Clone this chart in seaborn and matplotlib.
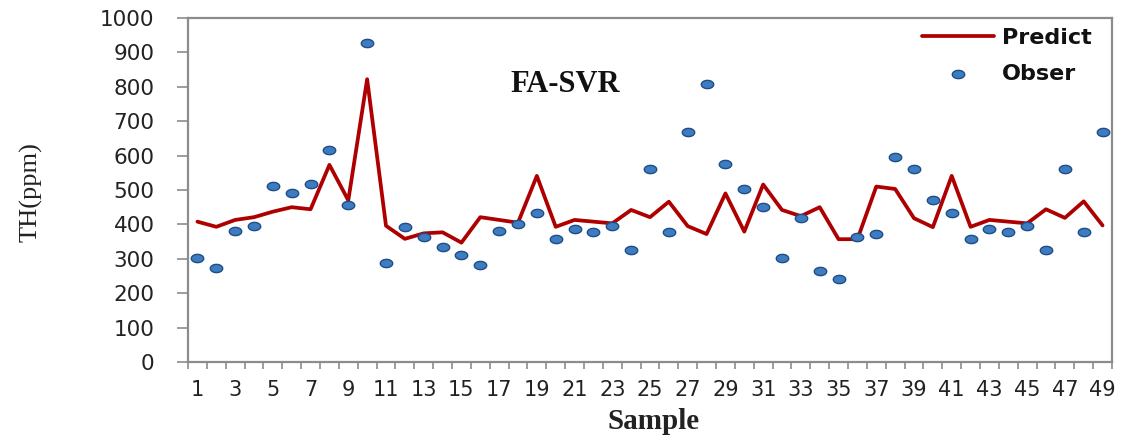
import numpy as np
import pandas as pd
import matplotlib
matplotlib.use("Agg")
import matplotlib.pyplot as plt
from matplotlib.path import Path
import seaborn as sns

samples = list(range(1, 50))
predict = [408, 393, 413, 421, 437, 450, 444, 573, 470, 822,
           396, 358, 374, 377, 347, 421, 413, 405, 541, 393,
           413, 408, 403, 442, 421, 466, 395, 372, 490, 379,
           516, 442, 424, 450, 357, 357, 510, 503, 418, 392,
           541, 393, 413, 408, 403, 444, 419, 467, 397]
observed = [301, 274, 381, 395, 511, 492, 516, 616, 456, 928,
            287, 392, 362, 335, 311, 281, 381, 402, 432, 357,
            387, 378, 396, 326, 562, 378, 670, 807, 577, 502,
            451, 302, 418, 265, 241, 364, 371, 595, 562, 471,
            432, 357, 387, 378, 396, 326, 562, 378, 670]
yticks = list(range(0, 1001, 100))
xtick_labels = [str(i) for i in range(1, 50, 2)]

df = pd.DataFrame({"Sample": samples, "Predict": predict, "Obser": observed})

sns.set_style("white")
plt.rcParams["font.family"] = ["DejaVu Sans"]

W, H = 1128, 436
fig = plt.figure(figsize=(W / 100, H / 100), dpi=100)
ax = fig.add_axes([188 / W, 1 - 362 / H, (1112 - 188) / W, (362 - 18) / H])

# ellipse marker
t = np.linspace(0, 2 * np.pi, 40)
ell = Path(np.column_stack([1.5 * np.cos(t), np.sin(t)]), closed=True)

sns.lineplot(data=df, x="Sample", y="Predict", ax=ax, color="#AE0000",
             linewidth=2.7, label="Predict", zorder=2)
sns.scatterplot(data=df, x="Sample", y="Obser", ax=ax, marker=ell, s=80,
                color="#3D7CC0", edgecolor="#1F4E86", linewidth=1.0,
                label="Obser", zorder=3)

ax.set_xlim(0.5, 49.5)
ax.set_ylim(0, 1000)
ax.set_yticks(yticks)
ax.set_xticks(list(range(1, 50, 2)))
ax.set_xticklabels(xtick_labels)
ax.set_xticks(np.arange(0.5, 50, 1.0), minor=True)

for s in ax.spines.values():
    s.set_color("#8C8C8C")
    s.set_linewidth(1.6)

ax.tick_params(axis="x", which="major", length=0, pad=13, labelsize=15,
               colors="#222222")
ax.tick_params(axis="x", which="minor", length=5, width=1.2, direction="out",
               color="#8C8C8C", bottom=True)
ax.tick_params(axis="y", which="major", length=8, width=1.2, direction="out",
               color="#8C8C8C", pad=16, labelsize=15.5, labelcolor="#222222",
               left=True)

ax.set_xlabel("Sample", family="Liberation Serif", fontweight="bold",
              fontsize=21, color="#222222")
ax.set_ylabel("TH(ppm)", family="Liberation Serif", fontsize=19,
              color="#222222")
ax.xaxis.set_label_coords((654 - 188) / 924, (362 - 421) / 344)
ax.xaxis.label.set_va("center")
ax.yaxis.set_label_coords((31 - 188) / 924, (362 - 192) / 344)
ax.yaxis.label.set_va("center")

ax.text(20.5, 806, "FA-SVR", family="Liberation Serif", fontweight="bold",
        fontsize=22, ha="center", va="center", color="#111111")

leg = ax.legend(loc="upper right", bbox_to_anchor=(0.988, 0.997),
                frameon=False, prop={"weight": "bold", "size": 16},
                handlelength=3.25, handletextpad=0.35, labelspacing=0.72,
                borderaxespad=0.0)
for txt in leg.get_texts():
    txt.set_color("#111111")

fig.savefig("out.png", dpi=100, facecolor="white")
